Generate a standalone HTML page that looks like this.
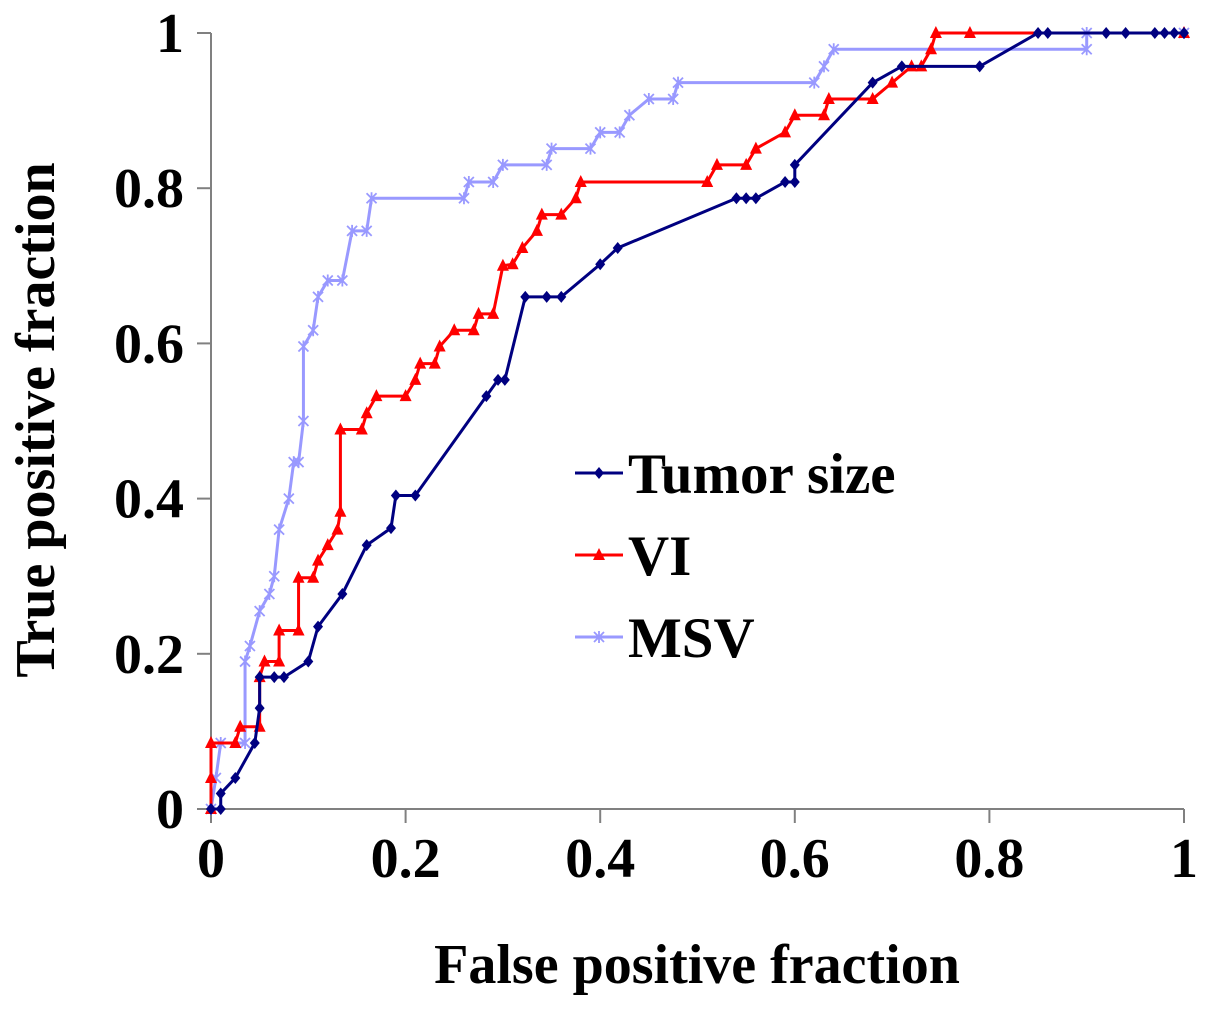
<!DOCTYPE html>
<html><head><meta charset="utf-8"><style>
html,body{margin:0;padding:0;background:#fff;}
svg text{font-family:"Liberation Serif",serif;font-weight:bold;fill:#000;}
</style></head><body>
<svg id="chart" width="1205" height="1005" xmlns="http://www.w3.org/2000/svg">
<g id="axes"></g><g id="series"></g>
<text transform="translate(54,420) rotate(-90)" text-anchor="middle" font-size="56">True positive fraction</text>
<text x="697" y="983" text-anchor="middle" font-size="56">False positive fraction</text>
<g id="legend"></g>
</svg>
<script>
const xTicks=[0,0.2,0.4,0.6,0.8,1];
const yTicks=[0,0.2,0.4,0.6,0.8,1];
const xTickLabels=["0","0.2","0.4","0.6","0.8","1"];
const yTickLabels=["0","0.2","0.4","0.6","0.8","1"];
const seriesNames=["Tumor size","VI","MSV"];
const tumorX=[0,0.01,0.01,0.025,0.045,0.05,0.05,0.065,0.075,0.1,0.11,0.135,0.16,0.185,0.19,0.21,0.283,0.295,0.302,0.323,0.345,0.36,0.4,0.418,0.54,0.55,0.56,0.59,0.6,0.6,0.68,0.71,0.79,0.85,0.86,0.92,0.94,0.97,0.98,0.99,1];
const tumorY=[0,0,0.02,0.04,0.085,0.13,0.17,0.17,0.17,0.19,0.235,0.277,0.34,0.362,0.404,0.404,0.532,0.553,0.553,0.66,0.66,0.66,0.702,0.723,0.787,0.787,0.787,0.808,0.808,0.83,0.936,0.957,0.957,1,1,1,1,1,1,1,1];
const viX=[0,0,0,0.025,0.03,0.05,0.05,0.055,0.07,0.07,0.09,0.09,0.105,0.11,0.12,0.13,0.133,0.133,0.155,0.16,0.17,0.2,0.21,0.215,0.23,0.235,0.25,0.27,0.275,0.29,0.3,0.31,0.32,0.335,0.34,0.36,0.375,0.38,0.51,0.52,0.55,0.56,0.59,0.6,0.63,0.635,0.68,0.7,0.72,0.73,0.74,0.745,0.78,1];
const viY=[0,0.04,0.085,0.085,0.106,0.106,0.17,0.19,0.19,0.23,0.23,0.298,0.298,0.32,0.34,0.36,0.383,0.489,0.489,0.51,0.532,0.532,0.553,0.574,0.574,0.596,0.617,0.617,0.638,0.638,0.7,0.702,0.723,0.745,0.766,0.766,0.787,0.808,0.808,0.83,0.83,0.851,0.872,0.894,0.894,0.915,0.915,0.936,0.957,0.957,0.979,1,1,1];
const msvX=[0,0.005,0.01,0.035,0.035,0.04,0.05,0.06,0.065,0.07,0.08,0.085,0.09,0.095,0.095,0.105,0.11,0.12,0.135,0.145,0.16,0.165,0.26,0.265,0.29,0.3,0.345,0.35,0.39,0.4,0.42,0.43,0.45,0.475,0.48,0.62,0.63,0.64,0.9,0.9,1];
const msvY=[0,0.04,0.085,0.085,0.19,0.21,0.255,0.277,0.3,0.36,0.4,0.447,0.447,0.5,0.596,0.617,0.66,0.681,0.681,0.745,0.745,0.787,0.787,0.808,0.808,0.83,0.83,0.851,0.851,0.872,0.872,0.894,0.915,0.915,0.936,0.936,0.957,0.979,0.979,1,1];
const X0=211,X1=1184,Y0=809,Y1=33;
const sx=v=>X0+v*(X1-X0), sy=v=>Y0-v*(Y0-Y1);
const NS="http://www.w3.org/2000/svg";
function mk(t,a,p){const e=document.createElementNS(NS,t);for(const k in a)e.setAttribute(k,a[k]);p.appendChild(e);return e;}
const axes=document.getElementById('axes');
let l=mk('line',{x1:X0,y1:Y1,x2:X0,y2:Y0,stroke:'#808080','stroke-width':2},axes);


l=mk('line',{x1:X0,y1:Y0,x2:X1,y2:Y0,stroke:'#808080','stroke-width':2},axes);


xTicks.forEach((v,i)=>{mk('line',{x1:sx(v),y1:Y0,x2:sx(v),y2:Y0+14,stroke:'#808080','stroke-width':2},axes);
 const t=mk('text',{x:sx(v),y:Y0+68,'text-anchor':'middle','font-size':56},axes);t.textContent=xTickLabels[i];
 
 });
yTicks.forEach((v,i)=>{mk('line',{x1:X0-14,y1:sy(v),x2:X0,y2:sy(v),stroke:'#808080','stroke-width':2},axes);
 const t=mk('text',{x:X0-27,y:sy(v)+19,'text-anchor':'end','font-size':56},axes);t.textContent=yTickLabels[i];
 
 });
const ser=document.getElementById('series');
function marker(type,x,y,c,p){
 if(type==='d')return mk('path',{d:`M${x} ${y-6}L${x+5} ${y}L${x} ${y+6}L${x-5} ${y}Z`,fill:c},p);
 if(type==='t')return mk('path',{d:`M${x} ${y-7}L${x+6} ${y+5}L${x-6} ${y+5}Z`,fill:c},p);
 return mk('path',{d:`M${x-5} ${y-5}L${x+5} ${y+5}M${x-5} ${y+5}L${x+5} ${y-5}M${x} ${y-6}L${x} ${y+6}`,stroke:c,'stroke-width':1.8},p);
}
function draw(xs,ys,c,w,type,name){
 const g=mk('g',{},ser);
 
 
 mk('polyline',{points:xs.map((v,i)=>sx(v)+','+sy(ys[i])).join(' '),fill:'none',stroke:c,'stroke-width':w},g);
 xs.forEach((v,i)=>marker(type,sx(v),sy(ys[i]),c,g));
}
draw(msvX,msvY,'#9999ff',3,'x','series-msv');
draw(viX,viY,'#ff0000',3,'t','series-vi');
draw(tumorX,tumorY,'#000080',3,'d','series-tumor-size');
const lg=document.getElementById('legend');
const lc=[['#000080','d'],['#ff0000','t'],['#9999ff','x']];
seriesNames.forEach((n,i)=>{const y=473+i*82;
 const g=mk('g',{},lg);
 
 
 mk('line',{x1:575,y1:y,x2:623,y2:y,stroke:lc[i][0],'stroke-width':3},g);
 marker(lc[i][1],599,y,lc[i][0],g);
 const t=mk('text',{x:628,y:y+20,'font-size':57},g);t.textContent=n;});
</script>
</body></html>
